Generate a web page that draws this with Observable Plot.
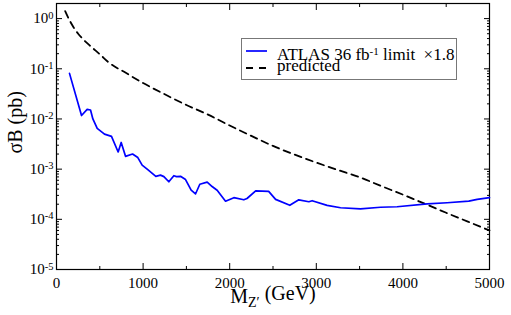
<!DOCTYPE html>
<html>
<head>
<meta charset="utf-8">
<script src="https://cdn.jsdelivr.net/npm/d3@7"></script>
<script src="https://cdn.jsdelivr.net/npm/@observablehq/plot@0.6"></script>
<style>
  html, body { margin: 0; padding: 0; background: #fff; }
  #wrap { position: relative; width: 511px; height: 315px; font-family: "Liberation Serif", serif; }
  #wrap svg text, #wrap svg { font-family: "Liberation Serif", serif !important; }
  #legend {
    position: absolute; left: 241px; top: 38px; width: 216px; height: 42px;
    border: 1px solid #777; background: #fff; box-sizing: border-box;
    font-size: 17px; color: #000;
  }
  #legend .row { position: absolute; left: 0; white-space: nowrap; line-height: 17px; height: 17px; }
  #legend svg { position: absolute; left: 4px; }
  #legend .lab { position: absolute; left: 35px; top: 0; }
  #legend sup { font-size: 11px; line-height: 0; vertical-align: 0.5em; }
</style>
</head>
<body>
<div id="wrap"></div>
<script>
// Z' mass (GeV) and the ATLAS 36 fb^-1 limit scaled by 1.8 (pb)
const limitMass = [150, 289, 354, 393, 420, 470, 554, 635, 712, 747, 797, 878, 939, 989, 1054,
  1147, 1201, 1240, 1297, 1355, 1386, 1432, 1490, 1555, 1605, 1655, 1740, 1797, 1855, 1952,
  2048, 2163, 2200, 2300, 2450, 2530, 2694, 2798, 2914, 2952, 3125, 3280, 3510, 3741, 3934,
  4280, 4511, 4761, 4858, 5000];
const limitSigma = [0.081, 0.0117, 0.0155, 0.0151, 0.0100, 0.0065, 0.0050, 0.0045, 0.0022, 0.0034,
  0.0018, 0.0020, 0.0017, 0.0012, 0.00098, 0.00072, 0.00076, 0.00071, 0.00056, 0.00074,
  0.00071, 0.00072, 0.00062, 0.00038, 0.00032, 0.0005, 0.00055, 0.00045, 0.00038, 0.00023,
  0.00027, 0.000245, 0.00026, 0.00037, 0.00036, 0.00025, 0.00019, 0.000245, 0.000224, 0.000235,
  0.00019, 0.00017, 0.000162, 0.000174, 0.000178, 0.000204, 0.000214, 0.00023, 0.00025, 0.00027];

// predicted sigma x B (pb)
const predMass = [100, 150, 200, 250, 300, 400, 500, 600, 800, 1000, 1250, 1500, 1750, 2000, 2250,
  2500, 2750, 3000, 3250, 3500, 3750, 4000, 4250, 4500, 4750, 5000];
const predSigma = [1.41, 0.93, 0.66, 0.50, 0.40, 0.275, 0.195, 0.135, 0.083, 0.052, 0.031, 0.019,
  0.0122, 0.0074, 0.0046, 0.0029, 0.00195, 0.00135, 0.00096, 0.00069, 0.00046, 0.00031, 0.000205,
  0.000135, 0.00009, 0.00006];

// axis ticks
const xMajor = [0, 1000, 2000, 3000, 4000, 5000];
const xMinor = [500, 1500, 2500, 3500, 4500];
const yMajor = [1e-5, 1e-4, 1e-3, 1e-2, 1e-1, 1];
const yMinorSteps = [2, 3, 4, 5, 6, 7, 8, 9];
const yMinor = yMajor.slice(0, -1).flatMap(d => yMinorSteps.map(k => k * d)).concat([2]);

const limitData = limitMass.map((m, i) => ({m, s: limitSigma[i]}));
const predData = predMass.map((m, i) => ({m, s: predSigma[i]}));

const serif = "Liberation Serif";
const expLabel = d => "10^" + Math.round(Math.log10(d));
const blank = () => "";

const chart = Plot.plot({
  width: 511, height: 315,
  marginLeft: 56, marginRight: 22, marginTop: 3, marginBottom: 46,
  style: {fontFamily: serif, fontSize: "15px", color: "#000", background: "#fff"},
  x: {domain: [0, 5000]},
  y: {type: "log", domain: [1e-5, 2]},
  marks: [
    Plot.axisX(xMajor, {anchor: "bottom", tickSize: -6, tickPadding: 14, tickFormat: d => String(d), label: null, fontSize: 15, fontFamily: serif}),
    Plot.axisX(xMinor, {anchor: "bottom", tickSize: -3, tickFormat: blank, label: null}),
    Plot.axisX(xMajor, {anchor: "top", tickSize: -6, tickFormat: blank, label: null}),
    Plot.axisX(xMinor, {anchor: "top", tickSize: -3, tickFormat: blank, label: null}),
    Plot.axisY(yMajor, {anchor: "left", tickSize: -6, tickPadding: 9, tickFormat: expLabel, label: null, fontSize: 15, fontFamily: serif}),
    Plot.axisY(yMinor, {anchor: "left", tickSize: -3, tickFormat: blank, label: null}),
    Plot.axisY(yMajor, {anchor: "right", tickSize: -6, tickFormat: blank, label: null}),
    Plot.axisY(yMinor, {anchor: "right", tickSize: -3, tickFormat: blank, label: null}),
    Plot.frame({stroke: "#000", strokeWidth: 1.2}),
    Plot.line(predData, {x: "m", y: "s", stroke: "#000", strokeWidth: 1.8, strokeDasharray: "7,5", curve: "monotone-x"}),
    Plot.line(limitData, {x: "m", y: "s", stroke: "#0000ff", strokeWidth: 1.7}),
    Plot.text(["MZ′ (GeV)"], {frameAnchor: "bottom", dy: 33, fontSize: 20, fontFamily: serif, fill: "#000"}),
    Plot.text(["σB (pb)"], {frameAnchor: "left", dx: -41, dy: 17, rotate: -90, fontSize: 20, fontFamily: serif, fill: "#000"})
  ]
});

// superscript exponents on the y tick labels, subscript on the x title
const svg = d3.select(chart);
svg.selectAll("text").each(function () {
  const el = d3.select(this);
  const t = el.text();
  const m = /^10\^(-?\d+)$/.exec(t);
  if (m) {
    el.text(null);
    el.append("tspan").text("10");
    el.append("tspan").attr("dy", "-0.45em").attr("font-size", "10.5px").text(m[1]);
  } else if (t === "MZ′ (GeV)") {
    el.text(null);
    el.append("tspan").text("M");
    el.append("tspan").attr("dy", "0.35em").attr("font-size", "14px").text("Z′");
    el.append("tspan").attr("dy", "-0.35em").text(" (GeV)");
  }
});

const wrap = document.getElementById("wrap");
wrap.appendChild(chart);

// legend
const legend = document.createElement("div");
legend.id = "legend";
legend.innerHTML = `
  <div class="row" style="top:7px">
    <svg width="24" height="17"><line x1="0" x2="21" y1="5" y2="5" stroke="#0000ff" stroke-width="1.7"/></svg>
    <span class="lab">ATLAS 36 fb<sup>-1</sup> limit&nbsp;&nbsp;×1.8</span>
  </div>
  <div class="row" style="top:18px">
    <svg width="24" height="17"><line x1="0" x2="21" y1="11" y2="11" stroke="#000" stroke-width="1.8" stroke-dasharray="7,6"/></svg>
    <span class="lab">predicted</span>
  </div>`;
wrap.appendChild(legend);
</script>
</body>
</html>
